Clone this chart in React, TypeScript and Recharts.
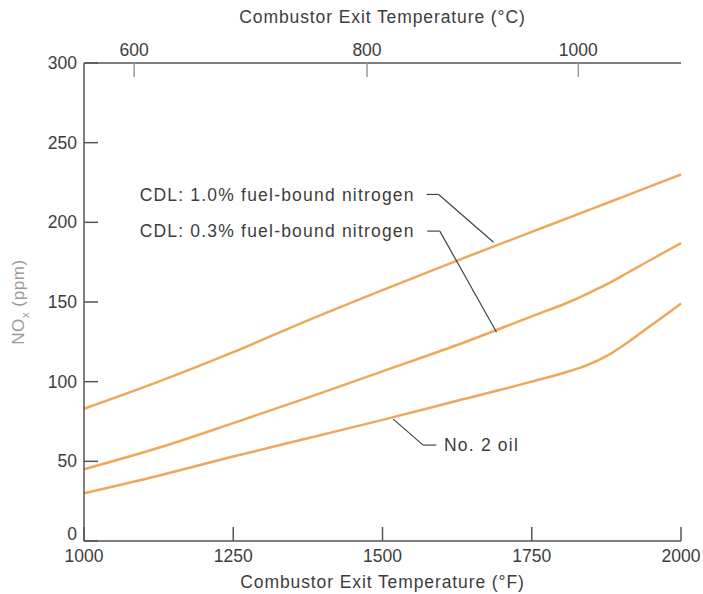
import React from 'react';
import { LineChart, Line, XAxis, YAxis, ReferenceLine, ReferenceDot } from 'recharts';

const temperaturesF = [1000, 1125, 1250, 1375, 1500, 1625, 1750, 1812.5, 1843.75, 1875, 1906.25, 1937.5, 1968.75, 2000];
const cdl10 = [83, 100, 118.5, 138.5, 157.5, 176, 194, 203, 207.5, 212, 216.5, 221, 225.5, 230];
const cdl03 = [45, 58.5, 74, 90, 106.5, 123, 141, 150, 155.3, 161, 167.4, 174, 180.5, 187];
const no2oil = [30, 41, 53, 64.5, 76, 88, 100, 106.5, 110.5, 116, 123.5, 132, 140.5, 149];

const bottomTicks = [1000, 1250, 1500, 1750, 2000];
const leftTicks = [0, 50, 100, 150, 200, 250, 300];
const topTickPositionsF = [1084, 1474, 1828];
const topTickLabels = ['600', '800', '1000'];

const label10 = 'CDL: 1.0% fuel-bound nitrogen';
const label03 = 'CDL: 0.3% fuel-bound nitrogen';
const labelOil = 'No. 2 oil';

// leader lines (data coordinates: °F, ppm)
const leader10 = [{ x: 1574, y: 217.5 }, { x: 1594, y: 217.5 }, { x: 1686, y: 187.5 }];
const leader03 = [{ x: 1575, y: 194.5 }, { x: 1596, y: 194.5 }, { x: 1691, y: 131 }];
const leaderOil = [{ x: 1518, y: 76.5 }, { x: 1568, y: 60.2 }, { x: 1590, y: 60.2 }];
const textPos10 = { x: 1554, y: 217.5 };
const textPos03 = { x: 1554, y: 194.5 };
const textPosOil = { x: 1603, y: 60.2 };

const data = temperaturesF.map((t, i) => ({ t, a: cdl10[i], b: cdl03[i], c: no2oil[i] }));

const ORANGE = '#EDA85C';
const AXIS = '#555';
const TEXT = '#3d3d3d';
const FONT = '"Liberation Sans", Arial, Helvetica, sans-serif';

const tickStyle = { fill: TEXT, fontSize: 17.5, fontFamily: FONT };

const Annot = (anchor: 'start' | 'end', text: string) => (props: any) => (
  <text
    x={props.cx}
    y={props.cy}
    dy="0.35em"
    textAnchor={anchor}
    fill={TEXT}
    fontSize={17.5}
    fontFamily={FONT}
    letterSpacing={1.2}
  >
    {text}
  </text>
);

const LeftTick = (props: any) => {
  const { x, y, payload } = props;
  const shift = payload.value === 0 ? -7 : 0;
  return (
    <text x={x} y={y + shift} dy="0.35em" textAnchor="end" fill={TEXT} fontSize={17.5} fontFamily={FONT}>
      {payload.value}
    </text>
  );
};

const segs = (pts: { x: number; y: number }[]) =>
  pts.slice(0, -1).map((p, i) => [p, pts[i + 1]]);

export default function App() {
  return (
    <div style={{ position: 'absolute', left: 0, top: 0, background: '#fff' }}>
      <LineChart
        width={703}
        height={594}
        data={data}
        margin={{ top: 0, right: 22, bottom: 0, left: 0 }}
      >
        <XAxis
          dataKey="t"
          type="number"
          domain={[1000, 2000]}
          ticks={bottomTicks}
          height={53}
          stroke={AXIS}
          strokeWidth={1.5}
          tickSize={-14}
          tickMargin={23}
          tick={tickStyle}
          tickLine={{ stroke: AXIS, strokeWidth: 1.5 }}
          label={{
            value: 'Combustor Exit Temperature (°F)',
            position: 'insideBottom',
            offset: 6,
            fill: TEXT,
            fontSize: 17.5,
            fontFamily: FONT,
            letterSpacing: 0.9,
          }}
        />
        <XAxis
          xAxisId="top"
          dataKey="t"
          orientation="top"
          type="number"
          domain={[1000, 2000]}
          ticks={topTickPositionsF}
          tickFormatter={(v: number, i: number) => topTickLabels[i]}
          height={63}
          stroke={AXIS}
          strokeWidth={1.5}
          tickSize={-14}
          tickMargin={21}
          tick={tickStyle}
          tickLine={{ stroke: '#999', strokeWidth: 1.5 }}
          label={{
            value: 'Combustor Exit Temperature (°C)',
            position: 'insideTop',
            offset: 11,
            fill: TEXT,
            fontSize: 17.5,
            fontFamily: FONT,
            letterSpacing: 0.9,
          }}
        />
        <YAxis
          type="number"
          domain={[0, 300]}
          ticks={leftTicks}
          width={84}
          stroke={AXIS}
          strokeWidth={1.5}
          tickSize={-14}
          tickMargin={21}
          tick={LeftTick}
          tickLine={{ stroke: AXIS, strokeWidth: 1.5 }}
          label={(p: any) => (
            <text
              x={0}
              y={0}
              transform="translate(24, 302) rotate(-90)"
              textAnchor="middle"
              fill="#9a9a9a"
              fontSize={17}
              fontFamily={FONT}
              letterSpacing={0.6}
            >
              NO<tspan fontSize={11} dy={5}>x</tspan>
              <tspan dy={-5}>{'  (ppm)'}</tspan>
            </text>
          )}
        />
        <YAxis
          yAxisId="right"
          orientation="right"
          type="number"
          domain={[0, 300]}
          width={0}
          stroke={AXIS}
          strokeWidth={1.5}
          tick={false}
          tickLine={false}
        />
        <Line type="monotone" dataKey="a" stroke={ORANGE} strokeWidth={2.5} dot={false} isAnimationActive={false} />
        <Line type="monotone" dataKey="b" stroke={ORANGE} strokeWidth={2.5} dot={false} isAnimationActive={false} />
        <Line type="monotone" dataKey="c" stroke={ORANGE} strokeWidth={2.5} dot={false} isAnimationActive={false} />
        <Line xAxisId="top" type="monotone" dataKey="a" stroke="none" strokeWidth={0} dot={false} activeDot={false} isAnimationActive={false} />
        <Line yAxisId="right" type="monotone" dataKey="a" stroke="none" strokeWidth={0} dot={false} activeDot={false} isAnimationActive={false} />
        {[...segs(leader10), ...segs(leader03), ...segs(leaderOil)].map((s, i) => (
          <ReferenceLine
            key={'seg' + i}
            segment={s as any}
            stroke="#444"
            strokeWidth={1.2}
          />
        ))}
        <ReferenceDot x={textPos10.x} y={textPos10.y} r={0} shape={Annot('end', label10)} />
        <ReferenceDot x={textPos03.x} y={textPos03.y} r={0} shape={Annot('end', label03)} />
        <ReferenceDot x={textPosOil.x} y={textPosOil.y} r={0} shape={Annot('start', labelOil)} />
      </LineChart>
    </div>
  );
}
